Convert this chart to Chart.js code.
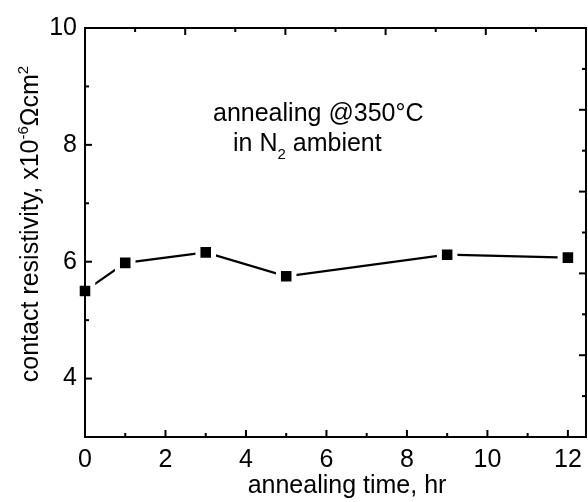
<!DOCTYPE html>
<html>
<head>
<meta charset="utf-8">
<script src="https://cdn.jsdelivr.net/npm/chart.js@4.4.1/dist/chart.umd.min.js"></script>
<style>
  html, body { margin: 0; padding: 0; background: #fff; }
  #wrap { width: 588px; height: 502px; }
</style>
</head>
<body>
<div id="wrap"><canvas id="chart" width="588" height="502"></canvas></div>
<script>
// annealing time (hr) vs contact resistivity (x10^-6 ohm cm^2)
const annealHours = [0, 1, 3, 5, 9, 12];
const resistivity = [5.50, 5.98, 6.16, 5.75, 6.12, 6.07];

const xTickLabels = [0, 2, 4, 6, 8, 10, 12];
const yTickLabels = [4, 6, 8, 10];
const xMinorTicks = [1, 3, 5, 7, 9, 11];
const yMinorTicks = [3, 5, 7, 9];
// the top and right axes of the original run 0..10
const mirrorMajor = [0, 2, 4, 6, 8, 10];
const mirrorMinor = [1, 3, 5, 7, 9];

const FONT = '"Liberation Sans", Arial, Helvetica, sans-serif';

// draws text pieces one after another: [text, size, baseline shift]
function richWidth(ctx, parts) {
  let w = 0;
  parts.forEach(([t, size]) => {
    ctx.font = size + 'px ' + FONT;
    w += ctx.measureText(t).width;
  });
  return w;
}
function richText(ctx, parts, x, y) {
  let cx = x;
  parts.forEach(([t, size, shift]) => {
    ctx.font = size + 'px ' + FONT;
    ctx.fillText(t, cx, y + shift);
    cx += ctx.measureText(t).width;
  });
}

const frame = {
  id: 'frame',
  afterDatasetsDraw(chart) {
    const { ctx, chartArea: a, scales } = chart;
    const MAJ = 7, MIN = 4;
    ctx.save();
    ctx.strokeStyle = '#000';
    ctx.lineWidth = 2;
    const line = (x1, y1, x2, y2) => {
      ctx.beginPath(); ctx.moveTo(x1, y1); ctx.lineTo(x2, y2); ctx.stroke();
    };
    ctx.strokeRect(a.left, a.top, a.right - a.left, a.bottom - a.top);
    // inward ticks
    xTickLabels.forEach(v => { const x = scales.x.getPixelForValue(v); line(x, a.bottom, x, a.bottom - MAJ); });
    xMinorTicks.forEach(v => { const x = scales.x.getPixelForValue(v); line(x, a.bottom, x, a.bottom - MIN); });
    yTickLabels.forEach(v => { const y = scales.y.getPixelForValue(v); line(a.left, y, a.left + MAJ, y); });
    yMinorTicks.forEach(v => { const y = scales.y.getPixelForValue(v); line(a.left, y, a.left + MIN, y); });
    mirrorMajor.forEach(v => {
      const x = scales.x2.getPixelForValue(v); line(x, a.top, x, a.top + MAJ);
      const y = scales.y2.getPixelForValue(v); line(a.right, y, a.right - MAJ, y);
    });
    mirrorMinor.forEach(v => {
      const x = scales.x2.getPixelForValue(v); line(x, a.top, x, a.top + MIN);
      const y = scales.y2.getPixelForValue(v); line(a.right, y, a.right - MIN, y);
    });
    ctx.restore();
  },
  afterDraw(chart) {
    const ctx = chart.ctx;
    ctx.save();
    ctx.fillStyle = '#000';
    ctx.textBaseline = 'alphabetic';
    ctx.textAlign = 'left';

    // note inside the plot
    richText(ctx, [['annealing @350\u00B0C', 25, 0]], 213, 121);
    richText(ctx, [['in N', 25, 0], ['2', 15, 8], [' ambient', 25, 0]], 233, 151);

    // x title
    const xt = [['annealing time, hr', 25, 0]];
    richText(ctx, xt, 347 - richWidth(ctx, xt) / 2, 493);

    // y title, rotated
    const yt = [['contact resistivity, x10', 25, 0], ['-6', 15, -10], ['\u03A9cm', 25, 0], ['2', 15, -10]];
    ctx.translate(38, 224);
    ctx.rotate(-Math.PI / 2);
    richText(ctx, yt, -richWidth(ctx, yt) / 2, 0);
    ctx.restore();
  }
};

const noPad = s => { s.paddingLeft = 0; s.paddingRight = 0; s.paddingTop = 0; s.paddingBottom = 0; };

new Chart(document.getElementById('chart'), {
  type: 'line',
  data: {
    datasets: [{
      data: annealHours.map((h, i) => ({ x: h, y: resistivity[i] })),
      borderColor: '#000',
      borderWidth: 2.2,
      tension: 0,
      clip: false,
      pointStyle: 'rect',
      pointRadius: 11,
      pointBackgroundColor: '#000',
      pointBorderColor: '#fff',
      pointBorderWidth: 5
    }]
  },
  options: {
    responsive: false,
    animation: false,
    events: [],
    layout: { padding: 0, autoPadding: false },
    plugins: { legend: { display: false }, tooltip: { enabled: false } },
    scales: {
      x: {
        type: 'linear', position: 'bottom', min: 0, max: 12.45,
        afterFit: s => { s.height = 65; noPad(s); },
        afterBuildTicks: s => { s.ticks = xTickLabels.map(v => ({ value: v })); },
        grid: { display: false, drawTicks: false },
        border: { display: false },
        ticks: { padding: 8, color: '#000', font: { family: FONT, size: 25 } }
      },
      y: {
        type: 'linear', position: 'left', min: 3, max: 10,
        afterFit: s => { s.width = 85; noPad(s); },
        afterBuildTicks: s => { s.ticks = yTickLabels.map(v => ({ value: v })); },
        grid: { display: false, drawTicks: false },
        border: { display: false },
        ticks: { padding: 8, color: '#000', font: { family: FONT, size: 25 } }
      },
      x2: {
        type: 'linear', position: 'top', min: 0, max: 10,
        afterFit: s => { s.height = 28; noPad(s); },
        grid: { display: false, drawTicks: false },
        border: { display: false },
        ticks: { display: false }
      },
      y2: {
        type: 'linear', position: 'right', min: 0, max: 10,
        afterFit: s => { s.width = 2; noPad(s); },
        grid: { display: false, drawTicks: false },
        border: { display: false },
        ticks: { display: false }
      }
    }
  },
  plugins: [frame]
});
</script>
</body>
</html>
